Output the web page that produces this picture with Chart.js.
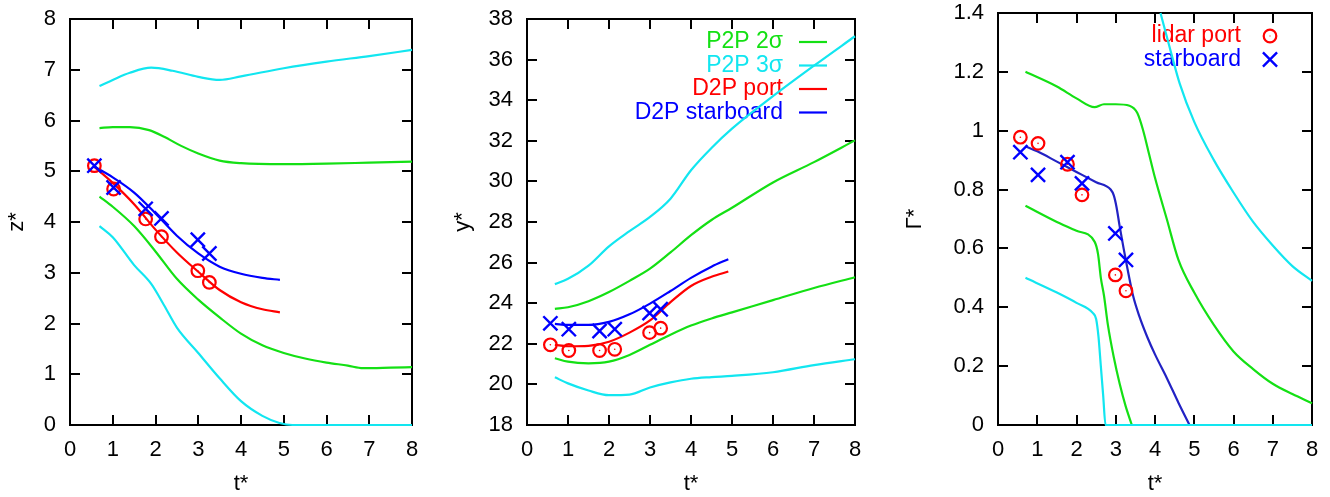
<!DOCTYPE html>
<html>
<head>
<meta charset="utf-8">
<script src="https://cdn.jsdelivr.net/npm/chart.js@4.4.1/dist/chart.umd.min.js"></script>
<style>
  html, body { margin: 0; padding: 0; background: #fff; }
  body { width: 1330px; height: 497px; position: relative; overflow: hidden; }
  canvas { position: absolute; top: 0; }
</style>
</head>
<body>
<canvas id="zChart" width="440" height="497" style="left:0px"></canvas>
<canvas id="yChart" width="440" height="497" style="left:440px"></canvas>
<canvas id="gChart" width="450" height="497" style="left:880px"></canvas>
<script>
// observation times (lidar)
const obsT = [0.57, 1.02, 1.77, 2.14, 2.99, 3.26];

// --- panel 1: z* ---
const zPortObs = [5.11, 4.65, 4.06, 3.71, 3.04, 2.81];
const zStbdObs = [5.11, 4.68, 4.26, 4.07, 3.65, 3.38];
const zModelT = [0.55, 1.0, 1.5, 2.0, 2.5, 3.0, 3.5, 4.0, 4.5, 4.91];
const zPortLine = [5.10, 4.77, 4.35, 3.85, 3.40, 3.02, 2.66, 2.42, 2.28, 2.22];
const zStbdLine = [5.10, 4.88, 4.58, 4.17, 3.73, 3.38, 3.12, 2.98, 2.90, 2.86];
const z2UpT = [0.69, 1.0, 1.4, 1.85, 2.2, 2.6, 3.0, 3.5, 4.0, 5.0, 6.0, 7.0, 8.0];
const z2Up = [5.85, 5.87, 5.87, 5.81, 5.68, 5.50, 5.35, 5.21, 5.16, 5.14, 5.15, 5.17, 5.19];
const z3UpT = [0.69, 1.0, 1.4, 1.9, 2.4, 3.0, 3.5, 4.0, 5.0, 6.0, 7.0, 8.0];
const z3Up = [6.68, 6.80, 6.94, 7.04, 6.98, 6.86, 6.80, 6.87, 7.03, 7.16, 7.27, 7.39];
const z2LoT = [0.69, 1.0, 1.5, 2.0, 2.5, 3.0, 3.5, 4.0, 4.5, 5.0, 5.5, 6.0, 6.5, 6.85, 7.5, 8.0];
const z2Lo = [4.50, 4.30, 3.92, 3.42, 2.88, 2.47, 2.12, 1.80, 1.57, 1.42, 1.31, 1.23, 1.17, 1.12, 1.13, 1.14];
const z3LoT = [0.69, 1.0, 1.5, 1.9, 2.2, 2.5, 3.0, 3.5, 4.0, 4.5, 4.9, 5.2, 8.0];
const z3Lo = [3.92, 3.70, 3.15, 2.78, 2.36, 1.92, 1.42, 0.92, 0.47, 0.18, 0.04, 0, 0];

// --- panel 2: y* ---
const yPortObs = [21.95, 21.67, 21.67, 21.73, 22.55, 22.77];
const yStbdObs = [23.01, 22.72, 22.63, 22.72, 23.51, 23.70];
const yModelT = [0.68, 1.0, 1.5, 2.0, 2.5, 3.0, 3.5, 4.0, 4.5, 4.91];
const yPortLine = [21.95, 21.88, 21.90, 22.10, 22.55, 23.15, 24.05, 24.85, 25.30, 25.56];
const yStbdLine = [22.98, 22.93, 22.93, 23.08, 23.45, 23.98, 24.60, 25.25, 25.80, 26.17];
const yBandT = [0.68, 1.0, 1.5, 2.0, 2.5, 3.0, 3.5, 4.0, 4.5, 5.0, 6.0, 7.0, 8.0];
const y2Up = [23.72, 23.80, 24.10, 24.55, 25.10, 25.70, 26.50, 27.35, 28.10, 28.70, 29.95, 30.95, 32.02];
const y3Up = [24.94, 25.20, 25.85, 26.80, 27.55, 28.25, 29.15, 30.55, 31.65, 32.60, 34.20, 35.70, 37.15];
const y2Lo = [21.29, 21.12, 21.04, 21.12, 21.45, 21.95, 22.45, 22.90, 23.25, 23.55, 24.15, 24.75, 25.28];
const y3Lo = [20.35, 20.05, 19.70, 19.47, 19.50, 19.85, 20.10, 20.28, 20.36, 20.42, 20.60, 20.95, 21.24];

// --- panel 3: Gamma* ---
const gPortObs = [0.978, 0.957, 0.886, 0.782, 0.51, 0.456];
const gStbdObs = [0.927, 0.85, 0.893, 0.821, 0.651, 0.561];
const gModelT = [0.70, 1.0, 1.5, 2.0, 2.5, 2.87, 2.95, 3.02, 3.1, 3.2, 3.3, 3.44, 3.6, 3.8, 4.0, 4.3, 4.6, 4.88];
const gModel = [0.947, 0.93, 0.895, 0.86, 0.825, 0.80, 0.78, 0.74, 0.675, 0.60, 0.53, 0.44, 0.37, 0.30, 0.24, 0.16, 0.075, 0];
const g2UpT = [0.70, 1.5, 2.0, 2.46, 2.7, 3.0, 3.35, 3.55, 3.7, 3.85, 4.0, 4.3, 4.6, 5.0, 5.5, 6.0, 6.5, 7.0, 7.5, 8.0];
const g2Up = [1.20, 1.15, 1.11, 1.08, 1.09, 1.09, 1.085, 1.06, 1.00, 0.92, 0.84, 0.70, 0.56, 0.45, 0.34, 0.25, 0.19, 0.14, 0.105, 0.074];
const g3UpT = [4.14, 4.4, 4.63, 5.0, 5.5, 6.0, 6.5, 7.0, 7.5, 8.0];
const g3Up = [1.40, 1.27, 1.16, 1.03, 0.90, 0.79, 0.69, 0.61, 0.54, 0.49];
const g2LoT = [0.70, 1.5, 2.0, 2.46, 2.55, 2.62, 2.7, 2.8, 2.95, 3.1, 3.25, 3.41];
const g2Lo = [0.745, 0.69, 0.66, 0.623, 0.58, 0.50, 0.44, 0.34, 0.23, 0.14, 0.065, 0];
const g3LoT = [0.70, 1.5, 2.0, 2.42, 2.5, 2.56, 2.62, 2.68, 2.74, 8.0];
const g3Lo = [0.50, 0.45, 0.415, 0.38, 0.36, 0.30, 0.20, 0.10, 0, 0];

const GREEN = '#14e014';
const CYAN = '#12e6f0';
const RED = '#ff0000';
const BLUE = '#0000ff';
const FONT = '"Liberation Sans", Arial, Helvetica, sans-serif';

Chart.defaults.font.family = FONT;
Chart.defaults.font.size = 22;
Chart.defaults.color = '#000';

function pts(ts, vs) { return ts.map((t, i) => ({ x: t, y: vs[i] })); }

function curve(ts, vs, color, extra) {
    return Object.assign({
        data: pts(ts, vs),
        showLine: true,
        borderColor: color,
        backgroundColor: color,
        borderWidth: 2.2,
        pointRadius: 0,
        cubicInterpolationMode: 'monotone',
        clip: 3,
        order: 5
    }, extra || {});
}

function circles(vs, extra) {
    return Object.assign({
        data: pts(obsT, vs),
        borderColor: RED,
        backgroundColor: 'rgba(0,0,0,0)',
        pointStyle: 'circle',
        pointRadius: 6.3,
        borderWidth: 2.2,
        order: 1
    }, extra || {});
}

function centreDots(vs) {
    return { data: pts(obsT, vs), pointStyle: 'circle', pointRadius: 0.8, borderWidth: 0, backgroundColor: RED, order: 0 };
}

function crosses(vs, extra) {
    return Object.assign({
        data: pts(obsT, vs),
        borderColor: BLUE,
        backgroundColor: BLUE,
        pointStyle: 'crossRot',
        pointRadius: 10,
        borderWidth: 2.4,
        order: 0
    }, extra || {});
}

// key drawn gnuplot-style: right-aligned text then a sample
const sideKey = {
    id: 'sideKey',
    beforeDatasetsDraw(chart, args, opts) {
        if (!opts || opts.right === undefined) return;
        const ctx = chart.ctx;
        const rows = chart.data.datasets.filter(d => d.keyRow !== undefined)
            .sort((a, b) => a.keyRow - b.keyRow);
        ctx.save();
        ctx.font = '23px ' + FONT;
        ctx.textAlign = 'right';
        ctx.textBaseline = 'middle';
        rows.forEach((d, i) => {
            const y = opts.top + i * opts.step;
            ctx.fillStyle = d.borderColor;
            ctx.fillText(d.label, opts.right, y);
            ctx.strokeStyle = d.borderColor;
            ctx.lineWidth = d.borderWidth;
            if (opts.sample === 'line') {
                ctx.beginPath();
                ctx.moveTo(opts.right + 16, y);
                ctx.lineTo(opts.right + 44, y);
                ctx.stroke();
            } else {
                ctx.fillStyle = 'rgba(0,0,0,0)';
                Chart.helpers.drawPoint(ctx, { pointStyle: d.pointStyle, radius: d.pointRadius, borderWidth: d.borderWidth, rotation: 0 }, opts.right + 29, y);
                if (d.pointStyle === 'circle') {
                    ctx.fillStyle = d.borderColor;
                    ctx.fillRect(opts.right + 28.5, y - 0.5, 1, 1);
                }
            }
        });
        ctx.restore();
    }
};

function axes(cfg) {
    const grid = { drawOnChartArea: false, drawTicks: true, tickLength: -10, lineWidth: 2, color: '#000' };
    const border = { display: true, color: '#000', width: 2 };
    const fmt = cfg.fmt || (v => String(v));
    const noPad = s => { s.paddingTop = 0; s.paddingBottom = 0; s.paddingLeft = 0; s.paddingRight = 0; };
    return {
        x: {
            type: 'linear', min: 0, max: 8,
            ticks: { stepSize: 1, padding: 22, maxRotation: 0, callback: v => String(v) },
            grid: grid, border: border,
            title: { display: true, text: 't*', padding: { top: 0, bottom: 0 } },
            afterFit: s => { s.height = 72; noPad(s); }
        },
        y: {
            type: 'linear', min: cfg.ymin, max: cfg.ymax,
            ticks: { stepSize: cfg.ystep, padding: 24, callback: fmt },
            grid: grid, border: border,
            title: { display: true, text: cfg.ytitle, padding: { top: cfg.titlePad, bottom: 0 } },
            afterFit: s => { s.width = cfg.yw; noPad(s); }
        },
        x2: {
            type: 'linear', position: 'top', min: 0, max: 8,
            ticks: { stepSize: 1, display: false },
            grid: grid, border: border,
            afterFit: s => { s.height = 0; noPad(s); }
        },
        y2: {
            type: 'linear', position: 'right', min: cfg.ymin, max: cfg.ymax,
            ticks: { stepSize: cfg.ystep, display: false },
            grid: grid, border: border,
            afterFit: s => { s.width = 0; noPad(s); }
        }
    };
}

function makeChart(id, datasets, cfg, key) {
    return new Chart(document.getElementById(id), {
        type: 'scatter',
        data: { datasets: datasets },
        options: {
            responsive: false,
            animation: false,
            events: [],
            layout: { padding: { top: cfg.padTop, right: cfg.padRight, left: 0, bottom: 0 } },
            plugins: { legend: { display: false }, tooltip: { enabled: false }, sideKey: key || {} },
            scales: axes(cfg)
        },
        plugins: [sideKey]
    });
}

makeChart('zChart', [
    crosses(zStbdObs),
    centreDots(zPortObs),
    circles(zPortObs),
    curve(zModelT, zStbdLine, BLUE, { order: 3 }),
    curve(zModelT, zPortLine, RED, { order: 4 }),
    curve(z2UpT, z2Up, GREEN),
    curve(z2LoT, z2Lo, GREEN),
    curve(z3UpT, z3Up, CYAN),
    curve(z3LoT, z3Lo, CYAN)
], { ymin: 0, ymax: 8, ystep: 1, ytitle: 'z*', titlePad: 4, yw: 70, padTop: 19, padRight: 28 });

makeChart('yChart', [
    crosses(yStbdObs),
    centreDots(yPortObs),
    circles(yPortObs),
    curve(yModelT, yStbdLine, BLUE, { order: 3, label: 'D2P starboard', keyRow: 3 }),
    curve(yModelT, yPortLine, RED, { order: 4, label: 'D2P port', keyRow: 2 }),
    curve(yBandT, y2Up, GREEN, { label: 'P2P 2σ', keyRow: 0 }),
    curve(yBandT, y2Lo, GREEN),
    curve(yBandT, y3Up, CYAN, { label: 'P2P 3σ', keyRow: 1 }),
    curve(yBandT, y3Lo, CYAN)
], { ymin: 18, ymax: 38, ystep: 2, ytitle: 'y*', titlePad: 10, yw: 87, padTop: 19, padRight: 25 },
   { right: 343, top: 42, step: 23.5, sample: 'line' });

makeChart('gChart', [
    crosses(gStbdObs, { label: 'starboard', keyRow: 1 }),
    centreDots(gPortObs),
    circles(gPortObs, { label: 'lidar port', keyRow: 0 }),
    curve(g3LoT, g3Lo, CYAN, { order: 2 }),
    curve(gModelT, gModel, '#2222c4', { order: 3 }),
    curve(g2UpT, g2Up, GREEN),
    curve(g2LoT, g2Lo, GREEN),
    curve(g3UpT, g3Up, CYAN)
], { ymin: 0, ymax: 1.4, ystep: 0.2, ytitle: 'Γ*', titlePad: 22, yw: 118, padTop: 13, padRight: 18,
     fmt: v => String(Math.round(v * 10) / 10) },
   { right: 361, top: 36, step: 23.5, sample: 'point' });
</script>
</body>
</html>
